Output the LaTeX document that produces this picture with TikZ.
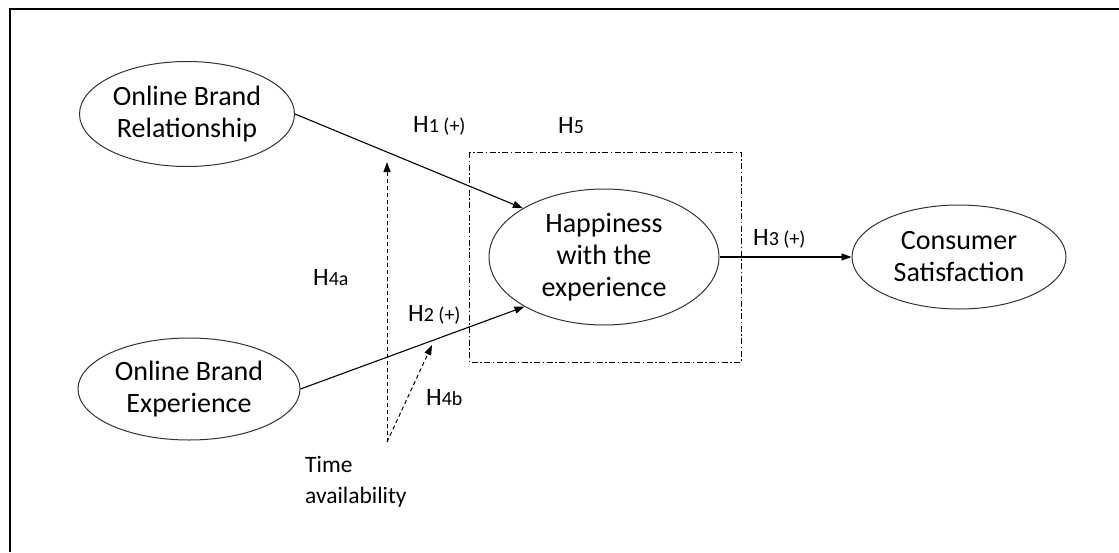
\documentclass[tikz,border=0pt]{standalone}
\usepackage{fontspec}
\setmainfont{Carlito}
\usetikzlibrary{shapes.geometric,arrows.meta}
\tikzset{
  construct/.style={ellipse, draw=black!80, line width=1pt, inner sep=0pt, align=center,
    font=\fontsize{28}{32}\selectfont},
  hlabel/.style={anchor=base west, inner sep=0pt},
  link/.style={line width=1.1pt, -{Triangle[length=10pt,width=7pt]}},
  modlink/.style={line width=1pt, dash pattern=on 4pt off 3pt, -{Triangle[length=10pt,width=7pt]}},
  framebox/.style={line width=1pt, dash pattern=on 6pt off 2.5pt on 1.5pt off 2.5pt}
}
\newcommand{\hyp}[2]{{\fontsize{25}{30}\selectfont H}{\fontsize{20}{24}\selectfont #1}}
\begin{document}
\begin{tikzpicture}[x=1pt,y=-1pt]
\useasboundingbox (0,0) rectangle (1119,552);
\draw[line width=2.5pt] (10,552) -- (10,9) -- (1119,9);

\node[construct, minimum width=215pt, minimum height=105pt] (obr) at (187,114) {Online Brand\\Relationship};
\node[construct, minimum width=222pt, minimum height=102pt] (obe) at (189,389) {Online Brand\\Experience};
\node[construct, minimum width=230pt, minimum height=136pt] (hap) at (604,257) {Happiness\\with the\\experience};
\node[construct, minimum width=214pt, minimum height=104pt] (cs) at (959,257) {Consumer\\Satisfaction};

\coordinate (boxnw) at (469,152);
\coordinate (boxse) at (741,362);
\draw[framebox] (boxnw) rectangle (boxse);

\draw[link] (obr.east) -- (hap.149);
\draw[link] (obe.east) -- (hap.212);
\draw[link] (hap.east) -- (cs.west);

\node[anchor=west, inner sep=0pt, align=left, font=\fontsize{23.5}{31}\selectfont] (time) at (305,482) {Time\\availability};
\coordinate (tsrc) at (387,442);
\coordinate (tup) at (387,162);
\coordinate (tdiag) at (432,345);
\draw[modlink] (tsrc) -- (tup);
\draw[modlink] (tsrc) -- (tdiag);

\node[hlabel] (h1) at (413,132) {\hyp{1 (+)}{}};
\node[hlabel] (h2) at (408,321) {\hyp{2 (+)}{}};
\node[hlabel] (h3) at (753,245) {\hyp{3 (+)}{}};
\node[hlabel] (h4a) at (313,285) {\hyp{4a}{}};
\node[hlabel] (h4b) at (426,405) {\hyp{4b}{}};
\node[hlabel] (h5) at (558,133) {\hyp{5}{}};
\end{tikzpicture}
\end{document}
